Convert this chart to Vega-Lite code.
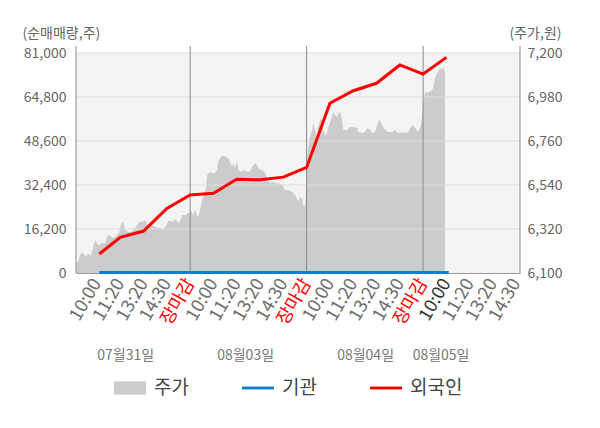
{
  "$schema": "https://vega.github.io/schema/vega-lite/v6.json",
  "autosize": {"type": "none"},
  "width": 444,
  "height": 220,
  "padding": {"left": 76, "top": 53, "right": 80, "bottom": 155},
  "background": "white",
  "datasets": {
    "price": [
      {"t": 0.11, "price": 6150}, {"t": 0.19, "price": 6155}, {"t": 0.28, "price": 6190}, {"t": 0.36, "price": 6205},
      {"t": 0.45, "price": 6190}, {"t": 0.54, "price": 6180}, {"t": 0.62, "price": 6200}, {"t": 0.71, "price": 6185},
      {"t": 0.79, "price": 6205}, {"t": 0.92, "price": 6265}, {"t": 1.01, "price": 6245}, {"t": 1.09, "price": 6240},
      {"t": 1.22, "price": 6250}, {"t": 1.35, "price": 6250}, {"t": 1.44, "price": 6285}, {"t": 1.57, "price": 6290},
      {"t": 1.65, "price": 6275}, {"t": 1.78, "price": 6280}, {"t": 1.95, "price": 6300}, {"t": 2.04, "price": 6345},
      {"t": 2.12, "price": 6355}, {"t": 2.21, "price": 6315}, {"t": 2.34, "price": 6305}, {"t": 2.47, "price": 6305},
      {"t": 2.64, "price": 6325}, {"t": 2.81, "price": 6355}, {"t": 2.94, "price": 6355}, {"t": 3.07, "price": 6365},
      {"t": 3.15, "price": 6345}, {"t": 3.24, "price": 6330}, {"t": 3.37, "price": 6340}, {"t": 3.5, "price": 6330},
      {"t": 3.67, "price": 6325}, {"t": 3.8, "price": 6315}, {"t": 3.93, "price": 6330}, {"t": 4.1, "price": 6365},
      {"t": 4.23, "price": 6355}, {"t": 4.36, "price": 6370}, {"t": 4.53, "price": 6350}, {"t": 4.66, "price": 6390},
      {"t": 4.79, "price": 6390}, {"t": 4.91, "price": 6400}, {"t": 5.0, "price": 6400}, {"t": 5.04, "price": 6415},
      {"t": 5.13, "price": 6385}, {"t": 5.21, "price": 6415}, {"t": 5.3, "price": 6380}, {"t": 5.39, "price": 6395},
      {"t": 5.47, "price": 6440}, {"t": 5.51, "price": 6465}, {"t": 5.6, "price": 6490}, {"t": 5.69, "price": 6530},
      {"t": 5.73, "price": 6590}, {"t": 5.86, "price": 6605}, {"t": 5.94, "price": 6600}, {"t": 6.07, "price": 6600},
      {"t": 6.16, "price": 6615}, {"t": 6.2, "price": 6655}, {"t": 6.29, "price": 6675}, {"t": 6.37, "price": 6685},
      {"t": 6.46, "price": 6685}, {"t": 6.54, "price": 6680}, {"t": 6.63, "price": 6675}, {"t": 6.72, "price": 6655},
      {"t": 6.8, "price": 6630}, {"t": 6.85, "price": 6650}, {"t": 6.93, "price": 6625}, {"t": 7.02, "price": 6665},
      {"t": 7.06, "price": 6615}, {"t": 7.19, "price": 6605}, {"t": 7.32, "price": 6615}, {"t": 7.49, "price": 6605},
      {"t": 7.58, "price": 6610}, {"t": 7.66, "price": 6630}, {"t": 7.79, "price": 6650}, {"t": 7.88, "price": 6640},
      {"t": 7.92, "price": 6625}, {"t": 8.05, "price": 6615}, {"t": 8.13, "price": 6615}, {"t": 8.22, "price": 6600},
      {"t": 8.35, "price": 6565}, {"t": 8.43, "price": 6550}, {"t": 8.56, "price": 6555}, {"t": 8.73, "price": 6550},
      {"t": 8.95, "price": 6540}, {"t": 9.08, "price": 6515}, {"t": 9.21, "price": 6515}, {"t": 9.38, "price": 6505},
      {"t": 9.51, "price": 6490}, {"t": 9.64, "price": 6455}, {"t": 9.68, "price": 6475}, {"t": 9.81, "price": 6475},
      {"t": 9.85, "price": 6440}, {"t": 9.94, "price": 6430}, {"t": 10.02, "price": 6680}, {"t": 10.06, "price": 6715},
      {"t": 10.15, "price": 6780}, {"t": 10.24, "price": 6815}, {"t": 10.28, "price": 6850}, {"t": 10.36, "price": 6815},
      {"t": 10.45, "price": 6780}, {"t": 10.49, "price": 6830}, {"t": 10.58, "price": 6865}, {"t": 10.66, "price": 6875},
      {"t": 10.71, "price": 6815}, {"t": 10.79, "price": 6790}, {"t": 10.88, "price": 6800}, {"t": 10.92, "price": 6825},
      {"t": 11.01, "price": 6855}, {"t": 11.09, "price": 6880}, {"t": 11.14, "price": 6905}, {"t": 11.22, "price": 6890},
      {"t": 11.31, "price": 6880}, {"t": 11.35, "price": 6900}, {"t": 11.44, "price": 6905}, {"t": 11.52, "price": 6865},
      {"t": 11.57, "price": 6815}, {"t": 11.74, "price": 6815}, {"t": 11.87, "price": 6830}, {"t": 12.0, "price": 6830},
      {"t": 12.17, "price": 6825}, {"t": 12.21, "price": 6805}, {"t": 12.38, "price": 6800}, {"t": 12.51, "price": 6805},
      {"t": 12.6, "price": 6825}, {"t": 12.73, "price": 6815}, {"t": 12.81, "price": 6800}, {"t": 12.94, "price": 6805},
      {"t": 13.07, "price": 6855}, {"t": 13.15, "price": 6865}, {"t": 13.24, "price": 6840}, {"t": 13.37, "price": 6815},
      {"t": 13.5, "price": 6805}, {"t": 13.67, "price": 6805}, {"t": 13.8, "price": 6815}, {"t": 13.93, "price": 6800},
      {"t": 14.1, "price": 6805}, {"t": 14.23, "price": 6800}, {"t": 14.36, "price": 6805}, {"t": 14.53, "price": 6840},
      {"t": 14.66, "price": 6825}, {"t": 14.79, "price": 6805}, {"t": 14.91, "price": 6840}, {"t": 15.0, "price": 6955},
      {"t": 15.09, "price": 7005}, {"t": 15.21, "price": 7000}, {"t": 15.39, "price": 7015}, {"t": 15.43, "price": 7025},
      {"t": 15.52, "price": 7080}, {"t": 15.6, "price": 7100}, {"t": 15.64, "price": 7105}, {"t": 15.73, "price": 7125},
      {"t": 15.82, "price": 7115}, {"t": 15.86, "price": 7130}, {"t": 15.94, "price": 7105}
    ],
    "flow": [
      {"t": 1.1, "series": "외국인", "qty": 7000}, {"t": 2, "series": "외국인", "qty": 13150},
      {"t": 3, "series": "외국인", "qty": 15450}, {"t": 4, "series": "외국인", "qty": 23800},
      {"t": 5, "series": "외국인", "qty": 28700}, {"t": 6, "series": "외국인", "qty": 29350},
      {"t": 7, "series": "외국인", "qty": 34500}, {"t": 8, "series": "외국인", "qty": 34300},
      {"t": 9, "series": "외국인", "qty": 35300}, {"t": 10, "series": "외국인", "qty": 38850},
      {"t": 11, "series": "외국인", "qty": 62500}, {"t": 12, "series": "외국인", "qty": 67100},
      {"t": 13, "series": "외국인", "qty": 69850}, {"t": 14, "series": "외국인", "qty": 76600},
      {"t": 15, "series": "외국인", "qty": 73250}, {"t": 16, "series": "외국인", "qty": 79400},
      {"t": 1.1, "series": "기관", "qty": 200}, {"t": 2, "series": "기관", "qty": 200},
      {"t": 3, "series": "기관", "qty": 200}, {"t": 4, "series": "기관", "qty": 200},
      {"t": 5, "series": "기관", "qty": 200}, {"t": 6, "series": "기관", "qty": 200},
      {"t": 7, "series": "기관", "qty": 200}, {"t": 8, "series": "기관", "qty": 200},
      {"t": 9, "series": "기관", "qty": 200}, {"t": 10, "series": "기관", "qty": 200},
      {"t": 11, "series": "기관", "qty": 200}, {"t": 12, "series": "기관", "qty": 200},
      {"t": 13, "series": "기관", "qty": 200}, {"t": 14, "series": "기관", "qty": 200},
      {"t": 15, "series": "기관", "qty": 200}, {"t": 16.1, "series": "기관", "qty": 200}
    ],
    "grid": [{"qty": 16200}, {"qty": 32400}, {"qty": 48600}, {"qty": 64800}, {"qty": 81000}],
    "days": [
      {"t": 0.1, "bottom": 0, "top": 83600}, {"t": 5, "bottom": 0, "top": 83600},
      {"t": 10, "bottom": 0, "top": 83600}, {"t": 15, "bottom": 0, "top": 83600},
      {"t": 19.16, "bottom": 0, "top": 83600}
    ]
  },
  "layer": [
    {
      "data": {"name": "price"},
      "mark": {"type": "area", "color": "#cccccc", "interpolate": "linear", "clip": true},
      "encoding": {
        "x": {
          "field": "t", "type": "quantitative",
          "scale": {"domain": [0.1, 19.16], "nice": false, "zero": false},
          "axis": {
            "orient": "bottom",
            "values": [1, 2, 3, 4, 5, 6, 7, 8, 9, 10, 11, 12, 13, 14, 15, 16, 17, 18, 19],
            "labelExpr": "['10:00','11:20','13:20','14:30','장마감'][(datum.value - 1) % 5]",
            "labelAngle": -60,
            "labelAlign": "right",
            "labelBaseline": "middle",
            "labelFontSize": 18,
            "labelPadding": 7,
            "labelOverlap": false,
            "labelBound": false,
            "labelFlush": false,
            "labelColor": {
              "condition": [
                {"test": "datum.value % 5 === 0", "value": "#ff0000"},
                {"test": "datum.value === 16", "value": "#333333"}
              ],
              "value": "#6e6e6e"
            },
            "ticks": false,
            "grid": false,
            "domain": true,
            "domainColor": "#999999",
            "title": null
          }
        },
        "y": {
          "field": "price", "type": "quantitative",
          "scale": {"domain": [6100, 7200], "nice": false, "zero": false},
          "axis": {
            "orient": "right",
            "values": [6100, 6320, 6540, 6760, 6980, 7200],
            "format": ",.0f",
            "grid": false,
            "ticks": false,
            "domain": false,
            "labelPadding": 7,
            "labelFontSize": 14,
            "labelColor": "#666666",
            "title": "(주가,원)",
            "titleAngle": 0,
            "titleAlign": "left",
            "titleBaseline": "middle",
            "titleX": -11,
            "titleY": -20,
            "titleFontSize": 14,
            "titleFontWeight": "normal",
            "titleColor": "#666666"
          }
        },
        "y2": {"datum": 6100},
        "color": {
          "datum": "주가",
          "type": "nominal",
          "scale": {"domain": ["주가", "기관", "외국인"], "range": ["#cccccc", "#0f7fd1", "#ff0000"]},
          "legend": {
            "orient": "none",
            "legendX": 38,
            "legendY": 319,
            "direction": "horizontal",
            "title": null,
            "gridAlign": "all",
            "columnPadding": 35,
            "symbolSize": 1024,
            "labelFontSize": 19,
            "labelColor": "#444444",
            "labelOffset": 8,
            "encode": {
              "symbols": {
                "update": {
                  "fill": {"scale": "color", "field": "value"},
                  "stroke": {"value": "transparent"},
                  "strokeWidth": {"value": 0},
                  "shape": {"signal": "datum.value === '주가' ? 'M-1,-0.42H1V0.42H-1Z' : 'M-1,-0.09H1V0.09H-1Z'"}
                }
              }
            }
          }
        }
      }
    },
    {
      "data": {"name": "grid"},
      "mark": {"type": "rule", "color": "#dddddd", "strokeWidth": 1},
      "encoding": {
        "y": {
          "field": "qty", "type": "quantitative",
          "scale": {"domain": [0, 81000], "nice": false},
          "axis": {
            "orient": "left",
            "values": [0, 16200, 32400, 48600, 64800, 81000],
            "format": ",.0f",
            "grid": false,
            "ticks": false,
            "domain": false,
            "labelPadding": 10,
            "labelFontSize": 14,
            "labelColor": "#666666",
            "title": "(순매매량,주)",
            "titleAngle": 0,
            "titleAlign": "left",
            "titleBaseline": "middle",
            "titleX": -54,
            "titleY": -20,
            "titleFontSize": 14,
            "titleFontWeight": "normal",
            "titleColor": "#666666"
          }
        }
      }
    },
    {
      "data": {"name": "days"},
      "mark": {"type": "rule", "color": "#8a8a8a", "strokeWidth": 1, "clip": false},
      "encoding": {
        "x": {
          "field": "t", "type": "quantitative",
          "axis": {
            "orient": "bottom",
            "offset": 75,
            "values": [2.21, 7.36, 12.51, 15.75],
            "labelExpr": "datum.value < 5 ? '07월31일' : datum.value < 10 ? '08월03일' : datum.value < 15 ? '08월04일' : '08월05일'",
            "labelAngle": 0,
            "labelAlign": "center",
            "labelBaseline": "top",
            "labelPadding": 0,
            "labelFontSize": 14,
            "labelColor": "#777777",
            "labelOverlap": false,
            "labelBound": false,
            "labelFlush": false,
            "ticks": false,
            "domain": false,
            "grid": false,
            "title": null
          }
        },
        "y": {"field": "bottom", "type": "quantitative", "scale": {"domain": [0, 81000], "nice": false}, "axis": null},
        "y2": {"field": "top"}
      }
    },
    {
      "data": {"name": "flow"},
      "mark": {"type": "line", "strokeWidth": 3},
      "encoding": {
        "x": {"field": "t", "type": "quantitative", "axis": null},
        "y": {"field": "qty", "type": "quantitative", "scale": {"domain": [0, 81000], "nice": false}, "axis": null},
        "color": {
          "field": "series",
          "type": "nominal",
          "legend": {
            "orient": "none",
            "legendX": 38,
            "legendY": 319,
            "direction": "horizontal",
            "title": null,
            "gridAlign": "all",
            "columnPadding": 35,
            "symbolSize": 1024,
            "labelFontSize": 19,
            "labelColor": "#444444",
            "labelOffset": 8,
            "encode": {
              "symbols": {
                "update": {
                  "fill": {"scale": "color", "field": "value"},
                  "stroke": {"value": "transparent"},
                  "strokeWidth": {"value": 0},
                  "shape": {"signal": "datum.value === '주가' ? 'M-1,-0.42H1V0.42H-1Z' : 'M-1,-0.09H1V0.09H-1Z'"}
                }
              }
            }
          }
        }
      }
    }
  ],
  "resolve": {"scale": {"y": "independent"}, "axis": {"x": "independent"}},
  "config": {
    "font": "Noto Sans CJK KR",
    "view": {"fill": "#f4f4f4", "stroke": null},
    "axis": {"labelFont": "Noto Sans CJK KR", "titleFont": "Noto Sans CJK KR"},
    "legend": {"labelFont": "Noto Sans CJK KR"}
  }
}
